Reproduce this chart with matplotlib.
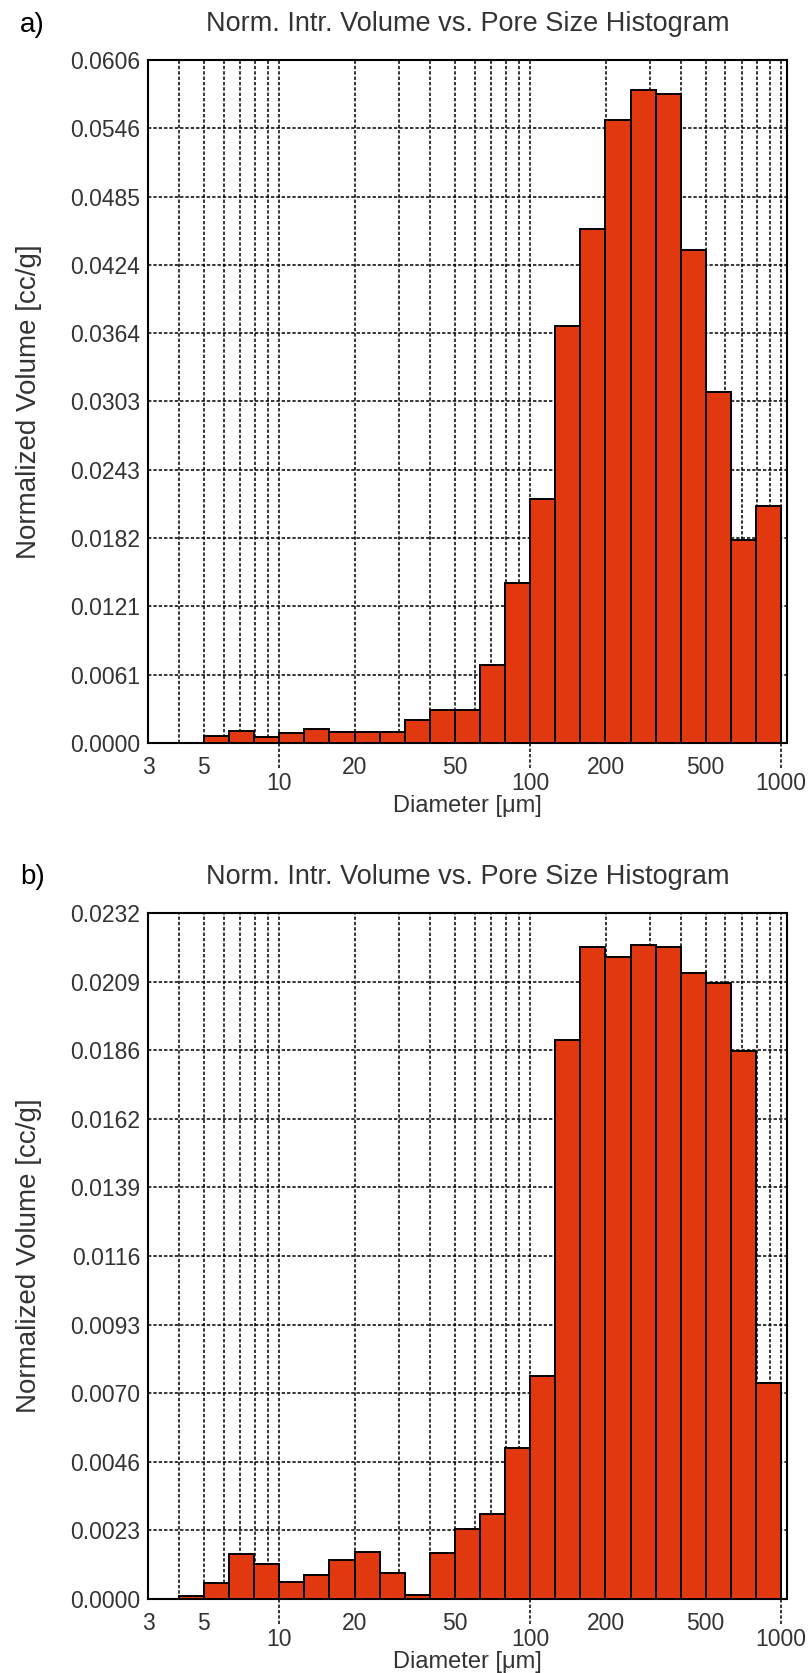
import matplotlib.pyplot as plt
import numpy as np
from matplotlib.ticker import FixedLocator, FixedFormatter

plt.rcParams['font.family'] = ['Liberation Sans', 'DejaVu Sans']

# bin edges are 10 per decade, 10**0.6 (~4 um) .. 10**3 um
edges_exp = np.arange(6, 31) / 10.0
bin_edges = 10 ** edges_exp

# panel a (first bin empty)
vol_a = [0.0, 0.00059, 0.0011, 0.00051, 0.00089, 0.00125, 0.00101, 0.00101, 0.00101,
         0.00205, 0.00297, 0.00297, 0.00693, 0.01418, 0.0217, 0.0370, 0.0456,
         0.0553, 0.0580, 0.0576, 0.0438, 0.0312, 0.0180, 0.0210]
# panel b
vol_b = [0.00011, 0.00054, 0.00152, 0.00118, 0.00056, 0.00081, 0.00132, 0.00158,
         0.00088, 0.00015, 0.00155, 0.00238, 0.00286, 0.00512, 0.00756, 0.0189,
         0.02204, 0.0217, 0.02211, 0.02204, 0.02117, 0.02083, 0.01853, 0.0073]

ymax_a = 0.06064
ymax_b = 0.0232
upper_ticks = [3, 5, 20, 50, 200, 500]
lower_ticks = [10, 100, 1000]
title = "Norm. Intr. Volume vs. Pore Size Histogram"
bar_color = "#e2380f"
txt = "#333333"
dash = (0, (2.2, 1.3))

fig = plt.figure(figsize=(8.11, 16.73), dpi=100)
ax_a = fig.add_axes([0.1825, 0.5559, 0.7879, 0.4083])
ax_b = fig.add_axes([0.1825, 0.0442, 0.7879, 0.4100])


def draw(ax, vals, ymax, letter, ypos_letter):
    left = bin_edges[:-1]
    widths = np.diff(bin_edges)
    ax.bar(left, vals, width=widths, align='edge', color=bar_color,
           edgecolor='black', linewidth=1.4, zorder=3)
    ax.set_xscale('log')
    ax.set_xlim(3, 1055)
    ax.set_ylim(0, ymax)
    yt = np.linspace(0, ymax, 11)
    ax.set_yticks(yt)
    ax.set_yticklabels(["%.4f" % v for v in yt])

    # dashed grid at every log position from 4 to 1000
    grid_x = [m * 10 ** d for d in range(0, 3) for m in range(1, 10)] + [1000]
    grid_x = [v for v in grid_x if v > 3.5]
    for v in grid_x:
        ax.axvline(v, color='black', linestyle=dash, linewidth=1.1, zorder=1)
    for v in yt[1:-1]:
        ax.axhline(v, color='black', linestyle=dash, linewidth=1.1, zorder=1)
    # dashed ticks below the decades
    for v in lower_ticks:
        ax.axvline(v, ymin=-0.037, ymax=0, color='black', linestyle=dash,
                   linewidth=1.1, clip_on=False)

    ax.xaxis.set_major_locator(FixedLocator(upper_ticks))
    ax.xaxis.set_major_formatter(FixedFormatter([str(v) for v in upper_ticks]))
    ax.xaxis.set_minor_locator(FixedLocator(lower_ticks))
    ax.xaxis.set_minor_formatter(FixedFormatter([str(v) for v in lower_ticks]))
    ax.tick_params(axis='both', which='both', length=0, labelsize=16.5, colors=txt)
    ax.tick_params(axis='x', which='major', pad=9.5)
    ax.tick_params(axis='x', which='minor', pad=21)
    ax.tick_params(axis='y', pad=5.5)
    for s in ax.spines.values():
        s.set_linewidth(1.5)

    ax.set_xlabel("Diameter [μm]", fontsize=17, color=txt)
    ax.xaxis.set_label_coords(0.5, -0.076)
    ax.set_ylabel("Normalized Volume [cc/g]", fontsize=20, color=txt)
    ax.yaxis.set_label_coords(-0.166, 0.5)
    ax.set_title(title, fontsize=19.5, color=txt, pad=21)
    fig.text(0.025, ypos_letter, letter, fontsize=20, color='black', va='center')


draw(ax_a, vol_a, ymax_a, "a)", 0.985)
draw(ax_b, vol_b, ymax_b, "b)", 0.4758)

fig.savefig("out.png", dpi=100, facecolor='white')
